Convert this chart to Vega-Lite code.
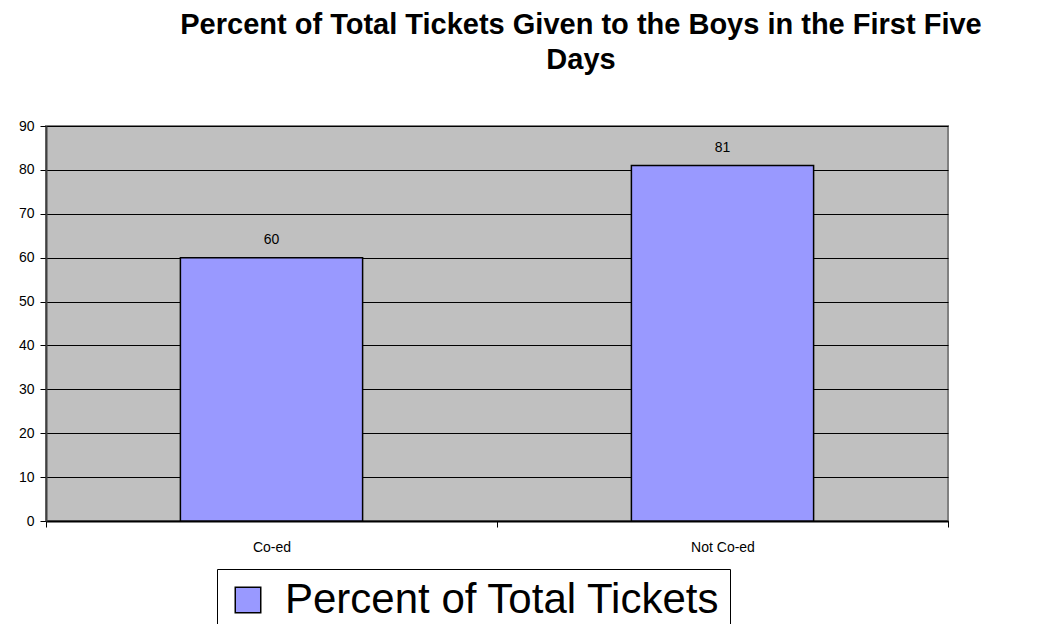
{
  "$schema": "https://vega.github.io/schema/vega-lite/v6.json",
  "width": 902,
  "height": 395,
  "autosize": {"type": "none"},
  "padding": {"left": 46, "top": 126, "right": 106, "bottom": 103},
  "background": "white",
  "title": {
    "text": ["Percent of Total Tickets Given to the Boys in the First Five", "Days"],
    "font": "Liberation Sans",
    "fontWeight": "bold",
    "fontSize": 29,
    "lineHeight": 35,
    "color": "black",
    "anchor": "middle",
    "frame": "group",
    "dx": 84,
    "offset": 44
  },
  "data": {
    "values": [
      {"category": "Co-ed", "value": 60, "series": "Percent of Total Tickets"},
      {"category": "Not Co-ed", "value": 81, "series": "Percent of Total Tickets"}
    ]
  },
  "encoding": {
    "x": {
      "field": "category",
      "type": "nominal",
      "sort": null,
      "scale": {"paddingInner": 0, "paddingOuter": 0},
      "axis": {
        "title": null,
        "labelAngle": 0,
        "tickBand": "extent",
        "domainColor": "black",
        "domainWidth": 2,
        "tickColor": "black",
        "tickWidth": 1,
        "tickSize": 6,
        "labelPadding": 13,
        "labelFont": "Liberation Sans",
        "labelFontSize": 14,
        "labelColor": "black",
        "grid": false
      }
    },
    "y": {
      "field": "value",
      "type": "quantitative",
      "scale": {"domain": [0, 90]},
      "axis": {
        "title": null,
        "values": [0, 10, 20, 30, 40, 50, 60, 70, 80, 90],
        "domainColor": "#404040",
        "domainWidth": 2,
        "gridColor": "black",
        "gridWidth": 1,
        "gridOpacity": 1,
        "tickColor": "black",
        "tickSize": 6,
        "labelPadding": 6,
        "labelFont": "Liberation Sans",
        "labelFontSize": 14,
        "labelColor": "black"
      }
    }
  },
  "layer": [
    {
      "mark": {"type": "bar", "stroke": "black", "strokeWidth": 1.5, "width": {"band": 0.404}},
      "encoding": {
        "color": {
          "field": "series",
          "type": "nominal",
          "scale": {"range": ["#9999FF"]},
          "legend": {
            "title": null,
            "orient": "none",
            "legendX": 171,
            "legendY": 443,
            "strokeColor": "black",
            "padding": 10,
            "symbolType": "square",
            "symbolSize": 650,
            "symbolStrokeColor": "black",
            "symbolStrokeWidth": 1.5,
            "symbolOpacity": 1,
            "labelFont": "Liberation Sans",
            "labelFontSize": 42,
            "labelColor": "black",
            "labelLimit": 0,
            "labelOffset": 16
          }
        }
      }
    },
    {
      "mark": {"type": "text", "dy": -18, "font": "Liberation Sans", "fontSize": 14, "color": "black"},
      "encoding": {
        "text": {"field": "value", "type": "quantitative"}
      }
    }
  ],
  "config": {
    "view": {"fill": "#C0C0C0", "stroke": "#808080", "strokeWidth": 2}
  }
}
